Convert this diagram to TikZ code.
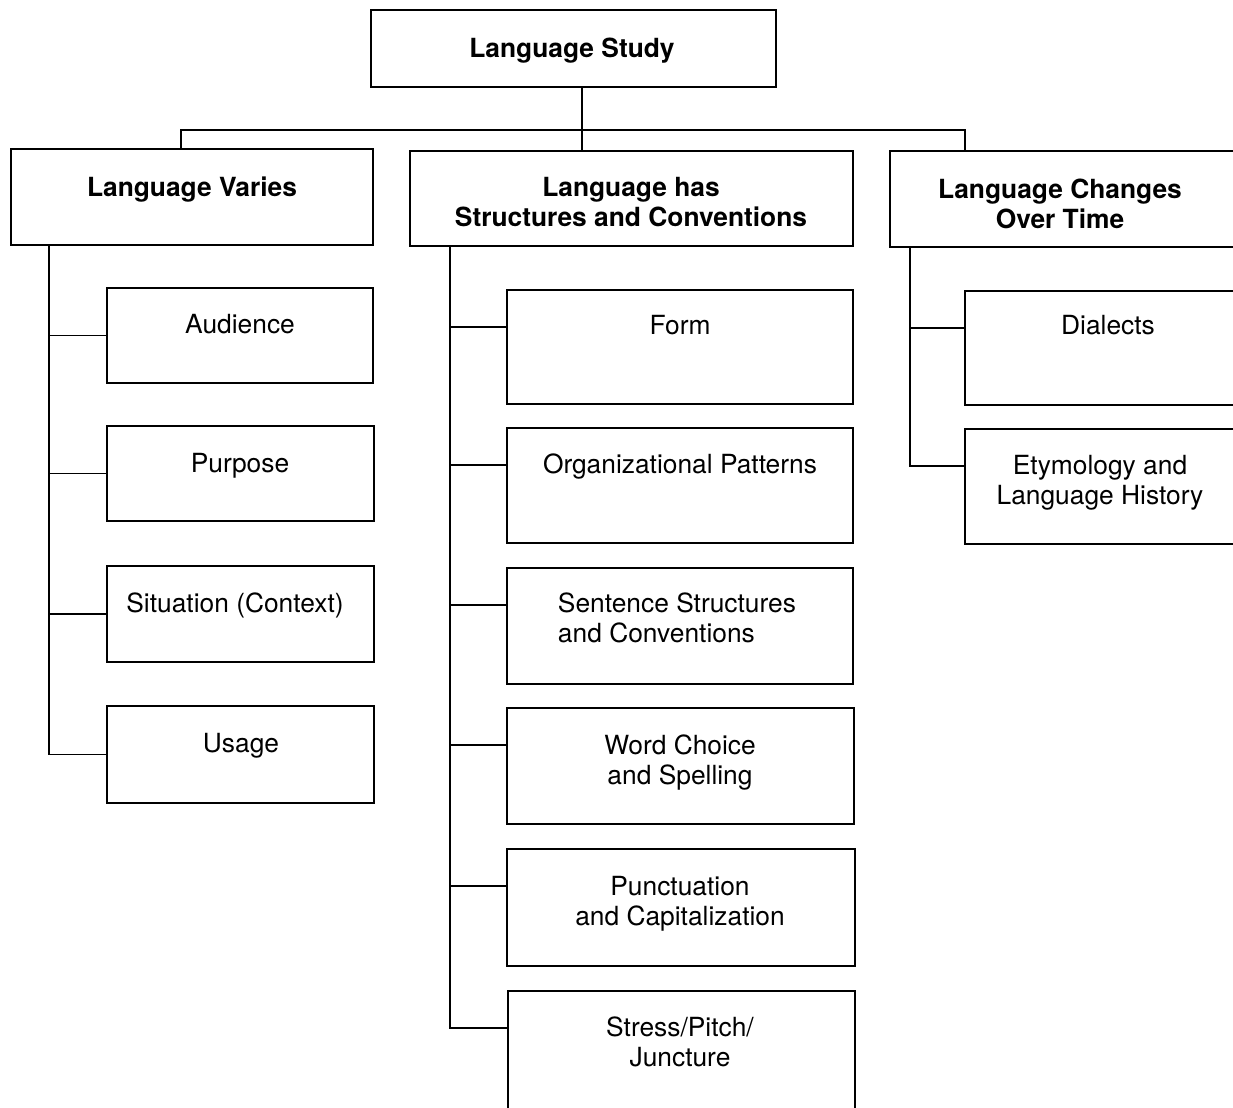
\documentclass[tikz,border=0pt]{standalone}
\usepackage{fontspec}
\setmainfont{TeX Gyre Heros}
\usetikzlibrary{fit,calc}
\newcommand\twolines[2]{\begin{tabular}[t]{@{}c@{}}#1\\#2\end{tabular}}
\newcommand\twolinesleft[2]{\begin{tabular}[t]{@{}l@{}}#1\\#2\end{tabular}}
\begin{document}
\begin{tikzpicture}[x=0.02cm, y=-0.02cm, line width=1.1pt,
  box/.style={draw, rectangle, inner sep=0pt},
  txt/.style={anchor=base, inner sep=0pt, font=\fontsize{15}{17.6}\selectfont},
  headtxt/.style={txt, font=\fontsize{15}{17.6}\selectfont\bfseries}]
\useasboundingbox (0,0) rectangle (1233,1107);
\clip (0,0) rectangle (1233,1107);

% boxes
\node[box, fit={(371,10)(776,87)}] (root) {};
\node[box, fit={(11,149)(373,245)}] (left) {};
\node[box, fit={(410,151)(853,246)}] (mid) {};
\node[box, fit={(890,151)(1260,247)}] (right) {};

\node[box, fit={(107,288)(373,383)}] (aud) {};
\node[box, fit={(107,426)(374,521)}] (pur) {};
\node[box, fit={(107,566)(374,662)}] (sit) {};
\node[box, fit={(107,706)(374,803)}] (usage) {};

\node[box, fit={(507,290)(853,404)}] (form) {};
\node[box, fit={(507,428)(853,543)}] (org) {};
\node[box, fit={(507,568)(853,684)}] (sent) {};
\node[box, fit={(507,708)(854,824)}] (word) {};
\node[box, fit={(507,849)(855,966)}] (punct) {};
\node[box, fit={(508,991)(855,1140)}] (stress) {};

\node[box, fit={(965,291)(1260,405)}] (dia) {};
\node[box, fit={(965,429)(1260,544)}] (ety) {};

% labels
\node[headtxt] (root-t) at (572,57) {Language Study};
\node[headtxt] (left-t) at (192,196) {Language Varies};
\node[headtxt] (mid-t) at (631,196) {\twolines{Language has}{Structures and Conventions}};
\node[headtxt] (right-t) at (1060,198) {\twolines{Language Changes}{Over Time}};

\node[txt] (aud-t) at (240,333) {Audience};
\node[txt] (pur-t) at (240,472) {Purpose};
\node[txt] (sit-t) at (235,612) {Situation (Context)};
\node[txt] (usage-t) at (241,752) {Usage};

\node[txt] (form-t) at (680,334) {Form};
\node[txt] (org-t) at (680,473) {Organizational Patterns};
\node[txt, anchor=base west] (sent-t) at (557,612) {\twolinesleft{Sentence Structures}{and Conventions}};
\node[txt] (word-t) at (680,754) {\twolines{Word Choice}{and Spelling}};
\node[txt] (punct-t) at (680,895) {\twolines{Punctuation}{and Capitalization}};
\node[txt] (stress-t) at (680,1036) {\twolines{Stress/Pitch/}{Juncture}};

\node[txt] (dia-t) at (1108,334) {Dialects};
\node[txt] (ety-t) at (1100,474) {\twolines{Etymology and}{Language History}};

% top level connectors
\coordinate (busL) at (181,130);
\coordinate (busM) at (582,130);
\coordinate (busR) at (965,130);
\draw (root.south -| busM) -- (busM |- mid.north);
\draw (busL |- left.north) -- (busL) -- (busR) -- (busR |- right.north);

% left column
\coordinate (spL) at (49,0);
\draw (spL |- left.south) -- (spL |- usage.west) -- (usage.west);
\foreach \b in {aud,pur,sit}
  \draw (spL |- \b.west) -- (\b.west);

% middle column
\coordinate (spM) at (450,0);
\foreach \b in {form,org,sent,word,punct,stress}
  \coordinate (\b-tap) at ($(\b.north west)+(0,38)$);
\draw (spM |- mid.south) -- (spM |- stress-tap) -- (stress-tap);
\foreach \b in {form,org,sent,word,punct}
  \draw (spM |- \b-tap) -- (\b-tap);

% right column
\coordinate (spR) at (910,0);
\foreach \b in {dia,ety}
  \coordinate (\b-tap) at ($(\b.north west)+(0,38)$);
\draw (spR |- right.south) -- (spR |- ety-tap) -- (ety-tap);
\draw (spR |- dia-tap) -- (dia-tap);
\end{tikzpicture}
\end{document}
